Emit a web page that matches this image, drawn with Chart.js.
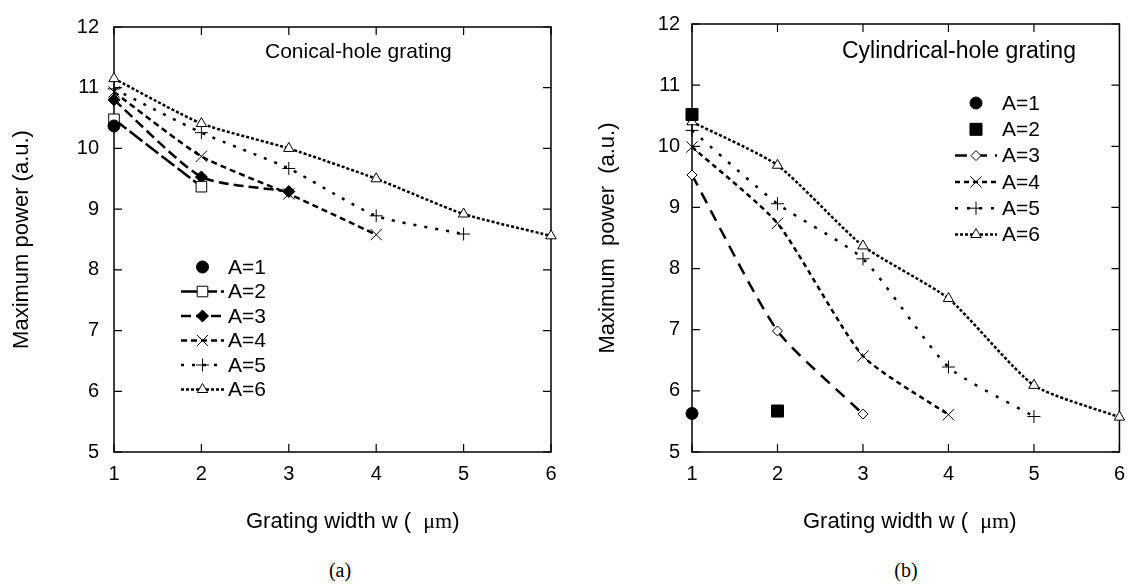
<!DOCTYPE html>
<html><head><meta charset="utf-8">
<script src="https://cdn.jsdelivr.net/npm/chart.js@4/dist/chart.umd.min.js"></script>
<style>
body{margin:0;background:#fff;width:1135px;height:588px;position:relative;overflow:hidden}
#wa{position:absolute;left:0;top:0;width:567px;height:545px}
#wb{position:absolute;left:567px;top:0;width:568px;height:545px}
.lab{position:absolute;top:558px;font-family:"Liberation Serif","Times New Roman",serif;font-size:20px;color:#000;transform:translateX(-50%);line-height:24px}
</style></head>
<body>
<div id="wa"><canvas id="ca" width="567" height="545"></canvas></div>
<div id="wb"><canvas id="cb" width="568" height="545"></canvas></div>
<div class="lab" style="left:340px">(a)</div>
<div class="lab" style="left:906px">(b)</div>
<script>
// ---- data ----
const widths = [1, 2, 3, 4, 5, 6];
const seriesLabels = ['A=1', 'A=2', 'A=3', 'A=4', 'A=5', 'A=6'];
const yTicks = [5, 6, 7, 8, 9, 10, 11, 12];
// Conical-hole grating (a)
const conA1 = [10.37];
const conA2 = [10.48, 9.37];
const conA3 = [10.80, 9.53, 9.29];
const conA4 = [10.93, 9.87, 9.25, 8.58];
const conA5 = [10.98, 10.26, 9.67, 8.89, 8.59];
const conA6 = [11.15, 10.41, 10.00, 9.50, 8.92, 8.56];
// Cylindrical-hole grating (b)
const cylA1 = [5.63];
const cylA2 = [10.52, 5.67];
const cylA3 = [9.53, 6.98, 5.62];
const cylA4 = [9.99, 8.74, 6.57, 5.61];
const cylA5 = [10.26, 9.06, 8.16, 6.39, 5.58];
const cylA6 = [10.40, 9.69, 8.37, 7.51, 6.09, 5.57];

const SANS = '"Liberation Sans", Arial, sans-serif';
const SERIF = '"Liberation Serif", "Times New Roman", serif';

function pts(vals) { return vals.map((v, i) => ({ x: widths[i], y: v })); }

const stylesA = [
  { ps: 'circle', r: 6, bg: '#000', line: false, dash: [] },
  { ps: 'rect', r: 7.5, bg: '#fff', line: true, dash: [16, 4] },
  { ps: 'rectRot', r: 6, bg: '#000', line: true, dash: [10, 5] },
  { ps: 'crossRot', r: 8, bg: '#000', line: true, dash: [6, 4] },
  { ps: 'cross', r: 6.5, bg: '#000', line: true, dash: [3, 8] },
  { ps: 'triangle', r: 6, bg: '#fff', line: true, dash: [3, 2] }
];
const stylesB = [
  { ps: 'circle', r: 6, bg: '#000', line: false, dash: [] },
  { ps: 'rect', r: 8.5, bg: '#000', line: false, dash: [] },
  { ps: 'rectRot', r: 5, bg: '#fff', line: true, dash: [12, 8] },
  { ps: 'crossRot', r: 8, bg: '#000', line: true, dash: [5, 4] },
  { ps: 'cross', r: 6.5, bg: '#000', line: true, dash: [3, 9] },
  { ps: 'triangle', r: 6, bg: '#fff', line: true, dash: [3, 2] }
];

function makeDatasets(lists, styles) {
  return lists.map((vals, i) => ({
    label: seriesLabels[i],
    data: pts(vals),
    showLine: styles[i].line,
    borderColor: '#000',
    borderWidth: 2.5,
    borderDash: styles[i].dash,
    pointStyle: styles[i].ps,
    pointRadius: styles[i].r,
    pointHoverRadius: styles[i].r,
    pointBackgroundColor: styles[i].bg,
    pointBorderColor: '#000',
    pointBorderWidth: 1,
    tension: 0.2,
    clip: false,
    fill: false
  }));
}

// frame with inward ticks
const framePlugin = {
  id: 'frame',
  beforeDatasetsDraw(chart) {
    const { ctx, chartArea: a, scales } = chart;
    ctx.save();
    ctx.strokeStyle = '#000';
    ctx.lineWidth = 1.5;
    ctx.strokeRect(a.left, a.top, a.right - a.left, a.bottom - a.top);
    ctx.lineWidth = 1.2;
    const L = 8;
    ctx.beginPath();
    scales.x.ticks.forEach(t => {
      const px = scales.x.getPixelForValue(t.value);
      ctx.moveTo(px, a.bottom); ctx.lineTo(px, a.bottom - L);
      ctx.moveTo(px, a.top); ctx.lineTo(px, a.top + L);
    });
    scales.y.ticks.forEach(t => {
      const py = scales.y.getPixelForValue(t.value);
      ctx.moveTo(a.left, py); ctx.lineTo(a.left + L, py);
      ctx.moveTo(a.right, py); ctx.lineTo(a.right - L, py);
    });
    ctx.stroke();
    ctx.restore();
  }
};

// legend, annotation and x title
const extrasPlugin = {
  id: 'extras',
  afterDatasetsDraw(chart, args, opts) {
    const { ctx } = chart;
    ctx.save();
    // annotation
    ctx.fillStyle = '#000';
    ctx.font = opts.noteSize + 'px ' + SANS;
    ctx.textAlign = 'left';
    ctx.textBaseline = 'middle';
    ctx.fillText(opts.note, opts.noteX, opts.noteY);
    // legend
    const lg = opts.legend;
    chart.data.datasets.forEach((ds, i) => {
      const y = lg.y0 + i * lg.dy;
      if (ds.showLine !== false) {
        ctx.save();
        ctx.strokeStyle = '#000';
        ctx.lineWidth = ds.borderWidth;
        ctx.setLineDash(ds.borderDash);
        ctx.beginPath();
        ctx.moveTo(lg.x0, y); ctx.lineTo(lg.x1, y);
        ctx.stroke();
        ctx.restore();
      }
      ctx.save();
      ctx.setLineDash([]);
      ctx.fillStyle = ds.pointBackgroundColor;
      ctx.strokeStyle = '#000';
      ctx.lineWidth = 1;
      Chart.helpers.drawPoint(ctx, { pointStyle: ds.pointStyle, radius: ds.pointRadius, borderWidth: 1, rotation: 0 }, (lg.x0 + lg.x1) / 2, y);
      ctx.restore();
      ctx.fillStyle = '#000';
      ctx.font = '21px ' + SANS;
      ctx.textAlign = 'left';
      ctx.textBaseline = 'middle';
      ctx.fillText(ds.label, lg.tx, y + 1);
    });
    // x title with mixed fonts
    const t1 = 'Grating width w (  ', t2 = 'μm', t3 = ')';
    const fs = '22px ' + SANS, ff = '22px ' + SERIF;
    ctx.textAlign = 'left';
    ctx.textBaseline = 'alphabetic';
    let x = opts.xTitleX;
    const ty = opts.xTitleY;
    ctx.font = fs; ctx.fillText(t1, x, ty); x += ctx.measureText(t1).width;
    ctx.font = ff; ctx.fillText(t2, x, ty); x += ctx.measureText(t2).width;
    ctx.font = fs; ctx.fillText(t3, x, ty);
    ctx.restore();
  }
};

function makeChart(id, lists, styles, cfg) {
  return new Chart(document.getElementById(id), {
    type: 'line',
    data: { datasets: makeDatasets(lists, styles) },
    options: {
      responsive: false,
      animation: false,
      events: [],
      layout: { padding: { left: 0, top: 18, right: cfg.padRight, bottom: 0 } },
      plugins: {
        legend: { display: false },
        tooltip: { enabled: false },
        extras: { note: cfg.note, noteX: cfg.noteX, noteY: 52, noteSize: cfg.noteSize, legend: cfg.legend, xTitleX: cfg.xTitleX, xTitleY: 528 }
      },
      scales: {
        x: {
          type: 'linear', min: 1, max: 6,
          afterBuildTicks: s => { s.ticks = widths.map(v => ({ value: v })); },
          afterFit: s => { s.height = 545 - 452; },
          grid: { display: false, drawTicks: false },
          border: { display: false },
          ticks: { autoSkip: false, maxRotation: 0, padding: 10, color: '#000', font: { family: SANS, size: 20 } }
        },
        y: {
          type: 'linear', min: 5, max: 12,
          afterBuildTicks: s => { s.ticks = yTicks.map(v => ({ value: v })); },
          afterFit: s => { s.width = cfg.yWidth; },
          grid: { display: false, drawTicks: false },
          border: { display: false },
          ticks: { autoSkip: false, padding: cfg.yTickPad, color: '#000', font: { family: SANS, size: 20 } },
          title: { display: true, text: cfg.yTitle, color: '#000', font: { family: SANS, size: 22 }, padding: { top: cfg.yTitlePad, bottom: 0 } }
        }
      }
    },
    plugins: [framePlugin, extrasPlugin]
  });
}

makeChart('ca', [conA1, conA2, conA3, conA4, conA5, conA6], stylesA, {
  padRight: 16, yWidth: 114, yTickPad: 15, yTitlePad: 9,
  yTitle: 'Maximum power (a.u.)',
  note: 'Conical-hole grating', noteX: 265, noteSize: 21,
  legend: { x0: 181, x1: 224, tx: 228, y0: 267, dy: 24.5 },
  xTitleX: 246
});
makeChart('cb', [cylA1, cylA2, cylA3, cylA4, cylA5, cylA6], stylesB, {
  padRight: 8, yWidth: 125, yTickPad: 12, yTitlePad: 28,
  yTitle: 'Maximum  power  (a.u.)',
  note: 'Cylindrical-hole grating', noteX: 275, noteSize: 23,
  legend: { x0: 388, x1: 430, tx: 435, y0: 103, dy: 26.3 },
  xTitleX: 236
});
</script>
</body></html>
